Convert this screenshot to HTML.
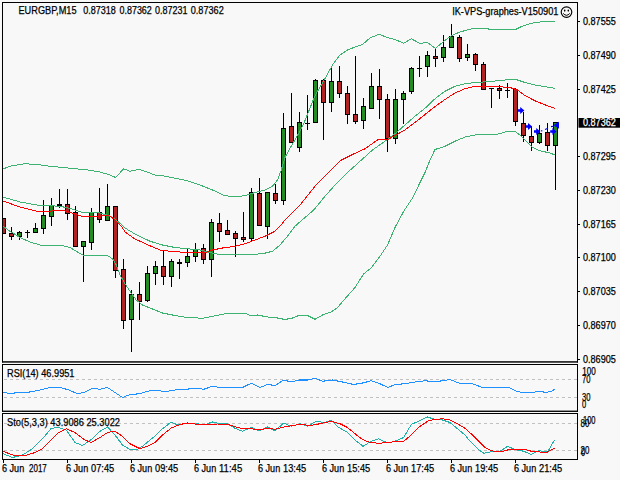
<!DOCTYPE html>
<html><head><meta charset="utf-8"><title>EURGBP,M15</title>
<style>
html,body{margin:0;padding:0;background:#f8f8f8;}
body{width:620px;height:480px;overflow:hidden;font-family:"Liberation Sans",sans-serif;}
svg{display:block}
text{font-family:"Liberation Sans",sans-serif;fill:#000;stroke:#000;stroke-width:0.25px}
</style></head><body>
<svg width="620" height="480" viewBox="0 0 620 480">
<rect x="0" y="0" width="620" height="480" fill="#f8f8f8"/>
<defs><clipPath id="cm"><rect x="3" y="3" width="574" height="359"/></clipPath></defs>
<g clip-path="url(#cm)" shape-rendering="crispEdges">
<rect x="3" y="218" width="1" height="16" fill="#000"/>
<rect x="1" y="218" width="5" height="16" fill="#000"/>
<rect x="2" y="219" width="3" height="14" fill="#b22222"/>
<rect x="11" y="227" width="1" height="13" fill="#000"/>
<rect x="9" y="233" width="5" height="4" fill="#000"/>
<rect x="10" y="234" width="3" height="2" fill="#b22222"/>
<rect x="19" y="231" width="1" height="9" fill="#000"/>
<rect x="17" y="232" width="5" height="5" fill="#000"/>
<rect x="18" y="233" width="3" height="3" fill="#228b22"/>
<rect x="27" y="230" width="1" height="8" fill="#000"/>
<rect x="25" y="232" width="5" height="1" fill="#000"/>
<rect x="35" y="223" width="1" height="9" fill="#000"/>
<rect x="33" y="228" width="5" height="5" fill="#000"/>
<rect x="34" y="229" width="3" height="3" fill="#228b22"/>
<rect x="43" y="200" width="1" height="34" fill="#000"/>
<rect x="41" y="215" width="5" height="14" fill="#000"/>
<rect x="42" y="216" width="3" height="12" fill="#228b22"/>
<rect x="51" y="198" width="1" height="28" fill="#000"/>
<rect x="49" y="205" width="5" height="12" fill="#000"/>
<rect x="50" y="206" width="3" height="10" fill="#228b22"/>
<rect x="59" y="189" width="1" height="19" fill="#000"/>
<rect x="57" y="204" width="5" height="2" fill="#000"/>
<rect x="67" y="189" width="1" height="31" fill="#000"/>
<rect x="65" y="204" width="5" height="10" fill="#000"/>
<rect x="66" y="205" width="3" height="8" fill="#b22222"/>
<rect x="75" y="206" width="1" height="40" fill="#000"/>
<rect x="73" y="212" width="5" height="35" fill="#000"/>
<rect x="74" y="213" width="3" height="33" fill="#b22222"/>
<rect x="83" y="241" width="1" height="41" fill="#000"/>
<rect x="81" y="241" width="5" height="6" fill="#000"/>
<rect x="82" y="242" width="3" height="4" fill="#228b22"/>
<rect x="91" y="208" width="1" height="42" fill="#000"/>
<rect x="89" y="212" width="5" height="31" fill="#000"/>
<rect x="90" y="213" width="3" height="29" fill="#228b22"/>
<rect x="99" y="188" width="1" height="35" fill="#000"/>
<rect x="97" y="212" width="5" height="8" fill="#000"/>
<rect x="98" y="213" width="3" height="6" fill="#b22222"/>
<rect x="107" y="184" width="1" height="36" fill="#000"/>
<rect x="105" y="206" width="5" height="15" fill="#000"/>
<rect x="106" y="207" width="3" height="13" fill="#228b22"/>
<rect x="115" y="206" width="1" height="72" fill="#000"/>
<rect x="113" y="206" width="5" height="65" fill="#000"/>
<rect x="114" y="207" width="3" height="63" fill="#b22222"/>
<rect x="123" y="259" width="1" height="70" fill="#000"/>
<rect x="121" y="269" width="5" height="52" fill="#000"/>
<rect x="122" y="270" width="3" height="50" fill="#b22222"/>
<rect x="131" y="290" width="1" height="62" fill="#000"/>
<rect x="129" y="294" width="5" height="26" fill="#000"/>
<rect x="130" y="295" width="3" height="24" fill="#228b22"/>
<rect x="139" y="282" width="1" height="38" fill="#000"/>
<rect x="137" y="294" width="5" height="8" fill="#000"/>
<rect x="138" y="295" width="3" height="6" fill="#b22222"/>
<rect x="147" y="266" width="1" height="36" fill="#000"/>
<rect x="145" y="273" width="5" height="28" fill="#000"/>
<rect x="146" y="274" width="3" height="26" fill="#228b22"/>
<rect x="155" y="261" width="1" height="24" fill="#000"/>
<rect x="153" y="266" width="5" height="8" fill="#000"/>
<rect x="154" y="267" width="3" height="6" fill="#228b22"/>
<rect x="163" y="250" width="1" height="35" fill="#000"/>
<rect x="161" y="266" width="5" height="11" fill="#000"/>
<rect x="162" y="267" width="3" height="9" fill="#b22222"/>
<rect x="171" y="259" width="1" height="28" fill="#000"/>
<rect x="169" y="261" width="5" height="16" fill="#000"/>
<rect x="170" y="262" width="3" height="14" fill="#228b22"/>
<rect x="179" y="259" width="1" height="20" fill="#000"/>
<rect x="177" y="262" width="5" height="2" fill="#000"/>
<rect x="187" y="249" width="1" height="18" fill="#000"/>
<rect x="185" y="256" width="5" height="7" fill="#000"/>
<rect x="186" y="257" width="3" height="5" fill="#228b22"/>
<rect x="195" y="243" width="1" height="19" fill="#000"/>
<rect x="193" y="249" width="5" height="8" fill="#000"/>
<rect x="194" y="250" width="3" height="6" fill="#228b22"/>
<rect x="203" y="244" width="1" height="20" fill="#000"/>
<rect x="201" y="248" width="5" height="12" fill="#000"/>
<rect x="202" y="249" width="3" height="10" fill="#b22222"/>
<rect x="211" y="219" width="1" height="58" fill="#000"/>
<rect x="209" y="222" width="5" height="38" fill="#000"/>
<rect x="210" y="223" width="3" height="36" fill="#228b22"/>
<rect x="219" y="213" width="1" height="29" fill="#000"/>
<rect x="217" y="223" width="5" height="9" fill="#000"/>
<rect x="218" y="224" width="3" height="7" fill="#b22222"/>
<rect x="227" y="220" width="1" height="14" fill="#000"/>
<rect x="225" y="230" width="5" height="5" fill="#000"/>
<rect x="226" y="231" width="3" height="3" fill="#b22222"/>
<rect x="235" y="231" width="1" height="26" fill="#000"/>
<rect x="233" y="233" width="5" height="6" fill="#000"/>
<rect x="234" y="234" width="3" height="4" fill="#b22222"/>
<rect x="243" y="212" width="1" height="30" fill="#000"/>
<rect x="241" y="237" width="5" height="3" fill="#000"/>
<rect x="242" y="238" width="3" height="1" fill="#b22222"/>
<rect x="251" y="188" width="1" height="53" fill="#000"/>
<rect x="249" y="192" width="5" height="47" fill="#000"/>
<rect x="250" y="193" width="3" height="45" fill="#228b22"/>
<rect x="259" y="178" width="1" height="48" fill="#000"/>
<rect x="257" y="193" width="5" height="33" fill="#000"/>
<rect x="258" y="194" width="3" height="31" fill="#b22222"/>
<rect x="267" y="192" width="1" height="47" fill="#000"/>
<rect x="265" y="192" width="5" height="35" fill="#000"/>
<rect x="266" y="193" width="3" height="33" fill="#228b22"/>
<rect x="275" y="184" width="1" height="20" fill="#000"/>
<rect x="273" y="193" width="5" height="8" fill="#000"/>
<rect x="274" y="194" width="3" height="6" fill="#b22222"/>
<rect x="283" y="113" width="1" height="92" fill="#000"/>
<rect x="281" y="128" width="5" height="73" fill="#000"/>
<rect x="282" y="129" width="3" height="71" fill="#228b22"/>
<rect x="291" y="93" width="1" height="50" fill="#000"/>
<rect x="289" y="126" width="5" height="17" fill="#000"/>
<rect x="290" y="127" width="3" height="15" fill="#b22222"/>
<rect x="299" y="112" width="1" height="40" fill="#000"/>
<rect x="297" y="122" width="5" height="26" fill="#000"/>
<rect x="298" y="123" width="3" height="24" fill="#228b22"/>
<rect x="307" y="95" width="1" height="35" fill="#000"/>
<rect x="305" y="123" width="5" height="1" fill="#000"/>
<rect x="315" y="79" width="1" height="43" fill="#000"/>
<rect x="313" y="80" width="5" height="43" fill="#000"/>
<rect x="314" y="81" width="3" height="41" fill="#228b22"/>
<rect x="323" y="79" width="1" height="61" fill="#000"/>
<rect x="321" y="80" width="5" height="23" fill="#000"/>
<rect x="322" y="81" width="3" height="21" fill="#b22222"/>
<rect x="331" y="67" width="1" height="45" fill="#000"/>
<rect x="329" y="81" width="5" height="22" fill="#000"/>
<rect x="330" y="82" width="3" height="20" fill="#228b22"/>
<rect x="339" y="66" width="1" height="32" fill="#000"/>
<rect x="337" y="81" width="5" height="13" fill="#000"/>
<rect x="338" y="82" width="3" height="11" fill="#b22222"/>
<rect x="347" y="86" width="1" height="38" fill="#000"/>
<rect x="345" y="93" width="5" height="22" fill="#000"/>
<rect x="346" y="94" width="3" height="20" fill="#b22222"/>
<rect x="355" y="56" width="1" height="68" fill="#000"/>
<rect x="353" y="114" width="5" height="8" fill="#000"/>
<rect x="354" y="115" width="3" height="6" fill="#b22222"/>
<rect x="363" y="98" width="1" height="31" fill="#000"/>
<rect x="361" y="106" width="5" height="15" fill="#000"/>
<rect x="362" y="107" width="3" height="13" fill="#228b22"/>
<rect x="371" y="73" width="1" height="36" fill="#000"/>
<rect x="369" y="86" width="5" height="23" fill="#000"/>
<rect x="370" y="87" width="3" height="21" fill="#228b22"/>
<rect x="379" y="69" width="1" height="50" fill="#000"/>
<rect x="377" y="86" width="5" height="14" fill="#000"/>
<rect x="378" y="87" width="3" height="12" fill="#b22222"/>
<rect x="387" y="94" width="1" height="58" fill="#000"/>
<rect x="385" y="99" width="5" height="40" fill="#000"/>
<rect x="386" y="100" width="3" height="38" fill="#b22222"/>
<rect x="395" y="89" width="1" height="55" fill="#000"/>
<rect x="393" y="99" width="5" height="40" fill="#000"/>
<rect x="394" y="100" width="3" height="38" fill="#228b22"/>
<rect x="403" y="91" width="1" height="33" fill="#000"/>
<rect x="401" y="93" width="5" height="7" fill="#000"/>
<rect x="402" y="94" width="3" height="5" fill="#228b22"/>
<rect x="411" y="67" width="1" height="27" fill="#000"/>
<rect x="409" y="68" width="5" height="24" fill="#000"/>
<rect x="410" y="69" width="3" height="22" fill="#228b22"/>
<rect x="419" y="56" width="1" height="21" fill="#000"/>
<rect x="417" y="68" width="5" height="1" fill="#000"/>
<rect x="427" y="51" width="1" height="26" fill="#000"/>
<rect x="425" y="55" width="5" height="12" fill="#000"/>
<rect x="426" y="56" width="3" height="10" fill="#228b22"/>
<rect x="435" y="48" width="1" height="19" fill="#000"/>
<rect x="433" y="56" width="5" height="3" fill="#000"/>
<rect x="434" y="57" width="3" height="1" fill="#b22222"/>
<rect x="443" y="35" width="1" height="27" fill="#000"/>
<rect x="441" y="47" width="5" height="11" fill="#000"/>
<rect x="442" y="48" width="3" height="9" fill="#228b22"/>
<rect x="451" y="24" width="1" height="24" fill="#000"/>
<rect x="449" y="36" width="5" height="12" fill="#000"/>
<rect x="450" y="37" width="3" height="10" fill="#228b22"/>
<rect x="459" y="35" width="1" height="27" fill="#000"/>
<rect x="457" y="37" width="5" height="22" fill="#000"/>
<rect x="458" y="38" width="3" height="20" fill="#b22222"/>
<rect x="467" y="44" width="1" height="17" fill="#000"/>
<rect x="465" y="54" width="5" height="4" fill="#000"/>
<rect x="466" y="55" width="3" height="2" fill="#228b22"/>
<rect x="475" y="53" width="1" height="18" fill="#000"/>
<rect x="473" y="54" width="5" height="11" fill="#000"/>
<rect x="474" y="55" width="3" height="9" fill="#b22222"/>
<rect x="483" y="62" width="1" height="28" fill="#000"/>
<rect x="481" y="64" width="5" height="26" fill="#000"/>
<rect x="482" y="65" width="3" height="24" fill="#b22222"/>
<rect x="491" y="88" width="1" height="20" fill="#000"/>
<rect x="489" y="88" width="5" height="1" fill="#000"/>
<rect x="499" y="85" width="1" height="14" fill="#000"/>
<rect x="497" y="88" width="5" height="3" fill="#000"/>
<rect x="498" y="89" width="3" height="1" fill="#b22222"/>
<rect x="507" y="83" width="1" height="15" fill="#000"/>
<rect x="505" y="90" width="5" height="1" fill="#000"/>
<rect x="515" y="88" width="1" height="38" fill="#000"/>
<rect x="513" y="89" width="5" height="33" fill="#000"/>
<rect x="514" y="90" width="3" height="31" fill="#b22222"/>
<rect x="523" y="112" width="1" height="30" fill="#000"/>
<rect x="521" y="123" width="5" height="13" fill="#000"/>
<rect x="522" y="124" width="3" height="11" fill="#b22222"/>
<rect x="531" y="126" width="1" height="25" fill="#000"/>
<rect x="529" y="136" width="5" height="7" fill="#000"/>
<rect x="530" y="137" width="3" height="5" fill="#b22222"/>
<rect x="539" y="125" width="1" height="19" fill="#000"/>
<rect x="537" y="133" width="5" height="10" fill="#000"/>
<rect x="538" y="134" width="3" height="8" fill="#228b22"/>
<rect x="547" y="123" width="1" height="28" fill="#000"/>
<rect x="545" y="132" width="5" height="14" fill="#000"/>
<rect x="546" y="133" width="3" height="12" fill="#b22222"/>
<rect x="555" y="122" width="1" height="68" fill="#000"/>
<rect x="553" y="122" width="5" height="24" fill="#000"/>
<rect x="554" y="123" width="3" height="22" fill="#228b22"/>
</g>
<g clip-path="url(#cm)">
<polyline points="3.00,169.00 10.00,166.25 25.00,163.75 37.50,164.50 50.00,166.25 62.50,167.50 75.00,168.75 87.50,170.00 100.00,172.00 110.00,175.00 115.50,177.50 123.75,168.75 130.00,171.25 138.75,169.50 145.00,171.25 155.00,175.00 162.50,175.75 175.00,178.25 187.50,180.75 200.00,185.00 212.50,190.00 225.00,195.75 235.00,196.75 245.00,195.75 255.00,192.50 265.00,190.00 272.50,186.25 277.50,180.00 281.25,170.00 285.00,157.50 290.00,148.00 295.00,140.00 300.00,131.00 304.00,123.00 310.00,108.00 314.00,98.00 317.00,92.00 322.00,84.00 327.00,75.00 332.50,65.00 340.00,55.00 347.50,50.00 355.00,47.00 362.50,44.50 370.00,38.00 378.75,34.25 387.50,37.50 395.00,39.50 403.75,43.25 411.25,38.75 420.00,43.50 427.00,42.20 431.00,45.00 435.50,48.50 444.00,41.00 452.00,35.50 458.00,32.80 465.00,30.50 474.00,28.20 487.50,28.20 489.00,29.30 516.00,29.30 521.50,26.50 531.00,23.30 542.50,21.70 555.00,21.20" fill="none" stroke="#3cb371" stroke-width="1.0" stroke-linejoin="round" shape-rendering="crispEdges"/>
<polyline points="3.00,226.25 10.00,231.25 20.00,237.50 30.00,242.00 40.00,245.00 50.00,245.50 62.50,245.50 70.00,247.50 77.50,252.00 83.75,255.50 95.00,255.50 107.50,255.50 112.50,258.75 116.25,265.00 120.00,275.00 125.00,283.75 130.00,291.25 136.25,300.00 142.50,305.00 150.00,308.00 162.50,313.00 175.00,315.50 187.50,317.50 202.50,318.25 212.50,316.25 225.00,313.75 235.00,313.25 245.00,313.25 251.25,315.75 257.50,315.00 267.50,317.00 275.00,317.50 285.00,319.50 292.50,318.00 298.75,315.50 307.50,315.50 315.00,319.25 322.50,315.00 331.25,312.00 337.50,307.50 345.00,298.75 355.00,287.50 363.75,273.75 371.25,268.00 380.00,256.25 387.50,245.00 395.00,227.50 403.75,211.25 412.50,198.00 420.00,182.50 425.00,172.50 430.00,160.00 435.00,149.50 445.00,146.25 455.00,141.25 465.00,137.00 475.00,135.00 485.00,134.25 497.50,134.25 507.50,131.25 515.00,131.25 520.00,135.00 525.00,140.00 532.50,147.50 540.00,150.75 550.00,153.00 555.00,155.00" fill="none" stroke="#3cb371" stroke-width="1.0" stroke-linejoin="round" shape-rendering="crispEdges"/>
<polyline points="3.00,197.00 20.00,202.00 40.00,205.50 60.00,206.20 70.00,208.50 75.00,210.00 82.00,212.20 95.00,212.30 100.00,213.00 105.00,214.50 110.00,216.00 116.00,220.00 122.00,225.00 125.00,228.00 135.00,234.00 150.00,241.25 162.50,245.00 175.00,247.50 187.50,248.75 200.00,250.00 207.50,252.00 215.00,253.75 225.00,255.00 237.50,254.50 250.00,254.50 262.50,253.75 272.50,251.25 280.00,245.00 287.50,236.25 295.00,226.25 305.00,217.50 313.75,210.00 325.00,196.25 335.00,185.00 347.50,172.50 360.00,161.25 372.50,150.00 385.00,141.25 395.00,133.75 405.00,125.00 415.00,116.25 425.00,108.25 435.00,98.75 445.00,91.25 455.00,86.25 465.00,83.75 475.00,82.50 487.50,81.75 500.00,80.50 510.00,79.50 517.50,80.00 525.00,82.50 535.00,85.00 545.00,86.75 555.00,88.25" fill="none" stroke="#3cb371" stroke-width="1.0" stroke-linejoin="round" shape-rendering="crispEdges"/>
<polyline points="3.00,201.00 20.00,207.00 40.00,212.00 52.00,211.00 60.00,210.00 65.00,211.00 70.00,212.20 75.00,214.00 82.00,216.20 100.00,216.20 104.00,215.20 107.00,215.20 110.00,216.50 114.00,219.00 118.00,223.00 122.00,227.00 125.00,232.00 135.00,239.00 150.00,245.75 160.00,250.00 170.00,251.25 180.00,252.00 192.50,252.50 200.00,253.00 207.50,252.00 212.50,250.00 222.50,248.00 235.00,246.25 245.00,243.75 255.00,240.00 265.00,236.25 275.00,231.25 280.00,226.25 285.00,220.00 292.50,212.50 300.00,205.00 305.00,198.75 315.00,186.25 327.50,173.75 340.00,160.75 352.50,154.50 365.00,148.75 378.00,139.60 388.00,139.50 392.00,137.20 395.00,135.50 405.00,130.00 415.00,122.50 425.00,114.50 435.00,106.50 445.00,99.50 455.00,93.00 465.00,88.75 475.00,86.25 485.00,86.25 500.00,86.75 510.00,87.50 517.50,90.00 525.00,95.50 535.00,100.80 545.00,104.80 555.00,108.50" fill="none" stroke="#ff0000" stroke-width="1.0" stroke-linejoin="round" shape-rendering="crispEdges"/>
</g>
<path d="M518,109.2 H520.2 V106.9 L524.4,110.5 L520.2,114.1 V111.8 H518 Z" fill="#0000ff"/>
<path d="M525.8,125.2 H528.0 V122.9 L532.1999999999999,126.5 L528.0,130.1 V127.8 H525.8 Z" fill="#0000ff"/>
<path d="M534,130.2 H536.2 V127.9 L540.4,131.5 L536.2,135.1 V132.8 H534 Z" fill="#0000ff"/>
<path d="M550.2,130.2 H552.4000000000001 V127.9 L556.6,131.5 L552.4000000000001,135.1 V132.8 H550.2 Z" fill="#0000ff"/>
<path d="M553.6,125.3 L559.0,121.8 V128.8 Z" fill="#0000ff"/>
<path d="M541,131 L542.3,130.6 M545,129.4 L548,128.2 M551,126.6 L554,126.2" stroke="#0000ff" stroke-width="1.1" fill="none"/>
<g fill="#000">
<rect x="2" y="2" width="576" height="1"/><rect x="2" y="361.2" width="576" height="1.45"/><rect x="2" y="2" width="1" height="360.5"/><rect x="577" y="2" width="1" height="360.5"/>
<rect x="2" y="364" width="576" height="1"/><rect x="2" y="410.6" width="576" height="1.35"/><rect x="2" y="364" width="1" height="48"/><rect x="577" y="364" width="1" height="48"/>
<rect x="2" y="413" width="576" height="1"/><rect x="2" y="459" width="576" height="1"/><rect x="2" y="413" width="1" height="47"/><rect x="577" y="413" width="1" height="47"/>
</g>
<line x1="4" y1="379.5" x2="577" y2="379.5" stroke="#c0c0c0" stroke-width="1" stroke-dasharray="3,3" shape-rendering="crispEdges"/>
<line x1="4" y1="397.5" x2="577" y2="397.5" stroke="#c0c0c0" stroke-width="1" stroke-dasharray="3,3" shape-rendering="crispEdges"/>
<line x1="4" y1="423.5" x2="577" y2="423.5" stroke="#c0c0c0" stroke-width="1" stroke-dasharray="3,3" shape-rendering="crispEdges"/>
<line x1="4" y1="450.5" x2="577" y2="450.5" stroke="#c0c0c0" stroke-width="1" stroke-dasharray="3,3" shape-rendering="crispEdges"/>
<polyline points="3.00,392.00 10.00,393.75 17.50,392.50 30.00,392.00 40.00,390.00 50.00,387.50 60.00,387.50 67.50,389.50 77.50,393.75 85.00,392.00 92.50,388.25 100.00,389.25 107.50,387.50 115.00,392.50 122.50,397.50 130.00,394.50 140.00,393.75 147.50,391.25 155.00,390.00 165.00,391.75 175.00,390.00 185.00,389.50 195.00,388.00 203.75,389.25 212.50,386.25 220.00,387.50 230.00,387.50 242.50,387.50 251.25,383.25 260.00,387.50 267.50,384.50 275.00,385.50 283.75,380.00 291.25,382.00 298.75,380.00 307.50,380.00 315.00,378.25 322.50,381.25 332.50,380.00 342.50,382.00 353.75,384.50 362.50,383.00 371.25,380.75 380.00,383.75 388.00,387.50 395.00,384.50 405.00,383.75 415.00,382.00 425.00,380.75 435.00,381.75 442.50,380.75 450.00,379.50 458.75,383.00 465.00,383.75 472.50,383.75 482.50,387.50 497.50,387.50 508.75,387.50 516.25,391.25 522.50,392.50 532.50,392.50 538.75,391.25 546.25,392.50 551.25,391.25 555.00,389.25" fill="none" stroke="#1e90ff" stroke-width="1.05" stroke-linejoin="round" shape-rendering="crispEdges"/>
<polyline points="3.00,453.75 12.50,457.50 22.50,455.00 32.50,448.75 42.50,438.75 51.25,428.25 58.75,427.50 66.25,430.00 75.00,442.50 82.50,445.50 92.50,438.75 100.00,431.25 107.50,427.00 115.00,435.00 122.50,445.00 130.00,449.50 136.25,450.00 142.50,446.25 150.00,440.00 155.00,436.25 162.50,428.75 171.25,422.00 177.50,425.00 187.50,423.00 195.00,423.00 203.75,425.00 212.50,422.00 220.00,423.75 227.50,423.75 235.00,428.25 242.50,431.25 251.25,427.50 258.75,430.75 267.50,427.00 275.00,430.75 283.75,423.00 291.25,426.25 300.00,423.75 307.50,426.25 316.25,421.25 323.75,422.50 331.25,420.50 338.75,427.50 347.50,432.50 355.00,440.00 363.00,446.25 371.25,441.25 378.75,438.75 387.50,443.00 395.00,441.25 403.75,437.50 411.25,424.50 420.00,420.50 427.50,417.00 435.00,419.50 442.50,420.00 450.00,422.50 457.50,428.75 465.00,435.00 470.00,441.25 477.50,448.75 483.75,453.25 491.25,451.75 500.00,451.25 507.50,446.25 515.00,449.50 523.75,451.25 531.25,454.50 538.75,450.50 544.00,451.80 548.20,451.00 554.70,439.70" fill="none" stroke="#20b2aa" stroke-width="1.0" stroke-linejoin="round" shape-rendering="crispEdges"/>
<polyline points="3.00,451.25 12.50,455.00 25.00,455.75 35.00,452.50 42.50,448.75 50.00,441.25 58.75,432.50 66.25,428.75 75.00,432.50 85.00,440.00 91.25,442.50 100.00,437.50 107.50,432.50 115.00,431.25 122.50,436.25 130.00,443.75 140.00,448.75 147.50,446.25 155.00,442.50 162.50,435.00 171.25,428.00 180.00,424.50 187.50,423.00 195.00,424.00 205.00,424.50 217.50,424.00 227.50,424.25 235.00,426.75 242.50,428.75 251.25,428.75 258.75,430.00 267.50,428.25 275.00,429.25 283.75,427.00 291.25,425.75 300.00,424.25 310.00,425.50 320.00,423.75 331.25,421.25 340.00,423.75 347.50,427.50 355.00,433.75 362.50,439.50 370.00,442.50 378.75,443.25 387.50,442.50 395.00,441.75 403.75,441.25 411.25,435.00 420.00,426.25 428.75,420.50 435.00,419.50 442.50,418.75 450.00,420.00 457.50,423.75 465.00,428.25 472.50,435.00 480.00,442.50 485.00,447.50 491.25,450.75 500.00,452.00 507.50,450.00 515.00,449.25 525.00,449.25 531.25,451.25 540.00,452.00 547.50,452.00 551.25,450.00 555.00,448.25" fill="none" stroke="#ff0000" stroke-width="1.0" stroke-linejoin="round" shape-rendering="crispEdges"/>
<rect x="578" y="21" width="2" height="1" fill="#000" shape-rendering="crispEdges"/>
<text x="583" y="25.3" font-size="10" textLength="32.8" lengthAdjust="spacingAndGlyphs">0.87555</text>
<rect x="578" y="55" width="2" height="1" fill="#000" shape-rendering="crispEdges"/>
<text x="583" y="59.0" font-size="10" textLength="32.8" lengthAdjust="spacingAndGlyphs">0.87490</text>
<rect x="578" y="89" width="2" height="1" fill="#000" shape-rendering="crispEdges"/>
<text x="583" y="92.7" font-size="10" textLength="32.8" lengthAdjust="spacingAndGlyphs">0.87425</text>
<rect x="578" y="156" width="2" height="1" fill="#000" shape-rendering="crispEdges"/>
<text x="583" y="160.2" font-size="10" textLength="32.8" lengthAdjust="spacingAndGlyphs">0.87295</text>
<rect x="578" y="190" width="2" height="1" fill="#000" shape-rendering="crispEdges"/>
<text x="583" y="194.0" font-size="10" textLength="32.8" lengthAdjust="spacingAndGlyphs">0.87230</text>
<rect x="578" y="224" width="2" height="1" fill="#000" shape-rendering="crispEdges"/>
<text x="583" y="227.7" font-size="10" textLength="32.8" lengthAdjust="spacingAndGlyphs">0.87165</text>
<rect x="578" y="257" width="2" height="1" fill="#000" shape-rendering="crispEdges"/>
<text x="583" y="261.4" font-size="10" textLength="32.8" lengthAdjust="spacingAndGlyphs">0.87100</text>
<rect x="578" y="291" width="2" height="1" fill="#000" shape-rendering="crispEdges"/>
<text x="583" y="295.2" font-size="10" textLength="32.8" lengthAdjust="spacingAndGlyphs">0.87035</text>
<rect x="578" y="325" width="2" height="1" fill="#000" shape-rendering="crispEdges"/>
<text x="583" y="328.9" font-size="10" textLength="32.8" lengthAdjust="spacingAndGlyphs">0.86970</text>
<rect x="578" y="359" width="2" height="1" fill="#000" shape-rendering="crispEdges"/>
<text x="583" y="362.7" font-size="10" textLength="32.8" lengthAdjust="spacingAndGlyphs">0.86905</text>
<rect x="578.5" y="118" width="41.5" height="9.7" fill="#000"/>
<text x="583" y="126.4" font-size="10" textLength="32.8" lengthAdjust="spacingAndGlyphs" style="fill:#fff;stroke:#fff">0.87362</text>
<text x="582.2" y="375.3" font-size="10" textLength="13.5" lengthAdjust="spacingAndGlyphs">100</text>
<text x="582" y="383.3" font-size="10" textLength="8.5" lengthAdjust="spacingAndGlyphs">70</text>
<text x="582" y="401.3" font-size="10" textLength="8.5" lengthAdjust="spacingAndGlyphs">30</text>
<text x="582" y="408.3" font-size="10" textLength="4.2" lengthAdjust="spacingAndGlyphs">0</text>
<text x="580.6" y="427.2" font-size="10" textLength="8.8" lengthAdjust="spacingAndGlyphs">80</text>
<text x="583" y="424.2" font-size="10" textLength="12.5" lengthAdjust="spacingAndGlyphs">100</text>
<text x="580.6" y="453.8" font-size="10" textLength="8.8" lengthAdjust="spacingAndGlyphs">20</text>
<text x="581" y="456.3" font-size="10" textLength="4.2" lengthAdjust="spacingAndGlyphs">0</text>
<text x="18.5" y="14" font-size="10" textLength="58" lengthAdjust="spacingAndGlyphs">EURGBP,M15</text>
<text x="83.25" y="14" font-size="10" textLength="32.5" lengthAdjust="spacingAndGlyphs">0.87318</text>
<text x="119.5" y="14" font-size="10" textLength="32.3" lengthAdjust="spacingAndGlyphs">0.87362</text>
<text x="155" y="14" font-size="10" textLength="32.5" lengthAdjust="spacingAndGlyphs">0.87231</text>
<text x="190.75" y="14" font-size="10" textLength="33" lengthAdjust="spacingAndGlyphs">0.87362</text>
<text x="7" y="377" font-size="10" textLength="67.5" lengthAdjust="spacingAndGlyphs">RSI(14) 46.9951</text>
<text x="7" y="426" font-size="10" textLength="113" lengthAdjust="spacingAndGlyphs">Sto(5,3,3) 43.9086 25.3022</text>
<text x="452.2" y="14.7" font-size="10" textLength="106.2" lengthAdjust="spacingAndGlyphs">IK-VPS-graphes-V150901</text>
<g fill="none" stroke="#000" stroke-width="1.15"><circle cx="566.5" cy="12.1" r="5.3"/><path d="M563.2 13.4 Q566.5 17.2 569.8 13.4" stroke-width="1"/></g><ellipse cx="564.7" cy="10.6" rx="0.8" ry="1.15" fill="#000"/><ellipse cx="568.3" cy="10.6" rx="0.8" ry="1.15" fill="#000"/>
<rect x="3" y="460" width="1" height="3" fill="#000" shape-rendering="crispEdges"/>
<text x="2" y="472" font-size="10.3" textLength="22.2" lengthAdjust="spacingAndGlyphs">6 Jun</text>
<text x="29" y="472" font-size="10.3" textLength="17.8" lengthAdjust="spacingAndGlyphs">2017</text>
<rect x="67" y="460" width="1" height="3" fill="#000" shape-rendering="crispEdges"/>
<text x="66" y="472" font-size="10.3" textLength="22.2" lengthAdjust="spacingAndGlyphs">6 Jun</text>
<text x="91" y="472" font-size="10.3" textLength="23.2" lengthAdjust="spacingAndGlyphs">07:45</text>
<rect x="131" y="460" width="1" height="3" fill="#000" shape-rendering="crispEdges"/>
<text x="130" y="472" font-size="10.3" textLength="22.2" lengthAdjust="spacingAndGlyphs">6 Jun</text>
<text x="155" y="472" font-size="10.3" textLength="23.2" lengthAdjust="spacingAndGlyphs">09:45</text>
<rect x="195" y="460" width="1" height="3" fill="#000" shape-rendering="crispEdges"/>
<text x="194" y="472" font-size="10.3" textLength="22.2" lengthAdjust="spacingAndGlyphs">6 Jun</text>
<text x="219" y="472" font-size="10.3" textLength="23.2" lengthAdjust="spacingAndGlyphs">11:45</text>
<rect x="259" y="460" width="1" height="3" fill="#000" shape-rendering="crispEdges"/>
<text x="258" y="472" font-size="10.3" textLength="22.2" lengthAdjust="spacingAndGlyphs">6 Jun</text>
<text x="283" y="472" font-size="10.3" textLength="23.2" lengthAdjust="spacingAndGlyphs">13:45</text>
<rect x="323" y="460" width="1" height="3" fill="#000" shape-rendering="crispEdges"/>
<text x="322" y="472" font-size="10.3" textLength="22.2" lengthAdjust="spacingAndGlyphs">6 Jun</text>
<text x="347" y="472" font-size="10.3" textLength="23.2" lengthAdjust="spacingAndGlyphs">15:45</text>
<rect x="387" y="460" width="1" height="3" fill="#000" shape-rendering="crispEdges"/>
<text x="386" y="472" font-size="10.3" textLength="22.2" lengthAdjust="spacingAndGlyphs">6 Jun</text>
<text x="411" y="472" font-size="10.3" textLength="23.2" lengthAdjust="spacingAndGlyphs">17:45</text>
<rect x="451" y="460" width="1" height="3" fill="#000" shape-rendering="crispEdges"/>
<text x="450" y="472" font-size="10.3" textLength="22.2" lengthAdjust="spacingAndGlyphs">6 Jun</text>
<text x="475" y="472" font-size="10.3" textLength="23.2" lengthAdjust="spacingAndGlyphs">19:45</text>
<rect x="515" y="460" width="1" height="3" fill="#000" shape-rendering="crispEdges"/>
<text x="514" y="472" font-size="10.3" textLength="22.2" lengthAdjust="spacingAndGlyphs">6 Jun</text>
<text x="539" y="472" font-size="10.3" textLength="23.2" lengthAdjust="spacingAndGlyphs">21:45</text>
</svg></body></html>
